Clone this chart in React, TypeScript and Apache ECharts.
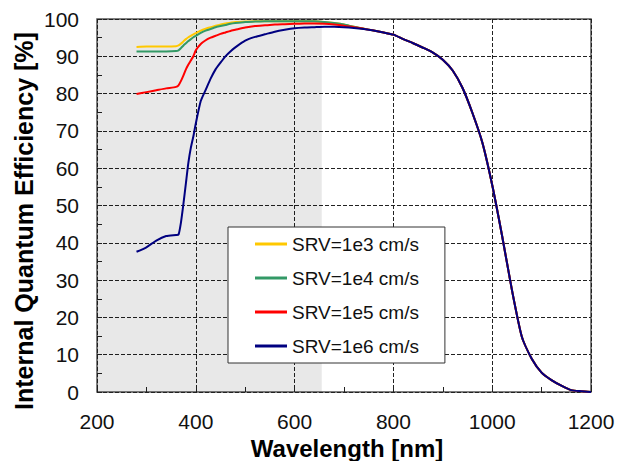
import React, { useEffect, useRef } from "react";
import * as echarts from "echarts";

const wavelengths = [280, 300, 320, 340, 360, 365, 370, 375, 380, 385, 390, 395, 400, 410, 420, 430, 440, 450, 460, 470, 480, 500, 520, 540, 560, 580, 600, 620, 640, 660, 680, 700, 720, 740, 760, 780, 800, 820, 840, 860, 880, 900, 920, 940, 960, 980, 1000, 1020, 1040, 1060, 1080, 1100, 1120, 1140, 1160, 1180, 1200];

const srv1e3 = [92.5, 92.6, 92.6, 92.6, 92.7, 92.9, 93.4, 94.0, 94.6, 95.1, 95.5, 95.9, 96.2, 96.9, 97.4, 97.8, 98.2, 98.5, 98.8, 99.0, 99.2, 99.3, 99.4, 99.4, 99.4, 99.4, 99.4, 99.4, 99.4, 99.2, 98.9, 98.5, 97.9, 97.4, 96.9, 96.4, 95.8, 94.6, 93.5, 92.3, 91.0, 89.1, 86.2, 81.5, 74.8, 66.9, 55.5, 41.9, 27.3, 14.8, 8.9, 5.2, 3.2, 1.7, 0.5, 0.2, 0];
const srv1e4 = [91.3, 91.3, 91.3, 91.3, 91.4, 91.6, 92.2, 92.9, 93.5, 94.1, 94.6, 95.1, 95.5, 96.3, 96.9, 97.3, 97.8, 98.1, 98.4, 98.7, 98.9, 99.2, 99.3, 99.4, 99.4, 99.4, 99.4, 99.4, 99.4, 99.2, 98.9, 98.5, 97.9, 97.4, 96.9, 96.4, 95.8, 94.6, 93.5, 92.3, 91.0, 89.1, 86.2, 81.5, 74.8, 66.9, 55.5, 41.9, 27.3, 14.8, 8.9, 5.2, 3.2, 1.7, 0.5, 0.2, 0];
const srv1e5 = [79.9, 80.4, 80.9, 81.4, 81.8, 82.2, 83.4, 84.9, 86.5, 87.8, 88.9, 90.0, 91.6, 93.3, 94.3, 95.0, 95.5, 96.0, 96.4, 96.8, 97.1, 97.7, 98.1, 98.3, 98.5, 98.6, 98.7, 98.8, 98.8, 98.7, 98.5, 98.2, 97.8, 97.4, 96.9, 96.4, 95.8, 94.6, 93.5, 92.3, 91.0, 89.1, 86.2, 81.5, 74.8, 66.9, 55.5, 41.9, 27.3, 14.8, 8.9, 5.2, 3.2, 1.7, 0.5, 0.2, 0];
const srv1e6 = [37.6, 38.8, 40.6, 41.8, 42.1, 42.2, 45.5, 50.5, 56.0, 61.5, 65.5, 68.5, 72.0, 78.0, 81.0, 84.0, 86.5, 88.3, 90.0, 91.3, 92.4, 94.2, 95.2, 95.9, 96.6, 97.1, 97.5, 97.7, 97.8, 97.9, 97.9, 97.8, 97.6, 97.3, 96.9, 96.4, 95.8, 94.6, 93.5, 92.3, 91.0, 89.1, 86.2, 81.5, 74.8, 66.9, 55.5, 41.9, 27.3, 14.8, 8.9, 5.2, 3.2, 1.7, 0.5, 0.2, 0];

const seriesNames = ["SRV=1e3 cm/s", "SRV=1e4 cm/s", "SRV=1e5 cm/s", "SRV=1e6 cm/s"];
const seriesValues = [srv1e3, srv1e4, srv1e5, srv1e6];
const seriesColors = ["#FFC800", "#339966", "#FF0000", "#000080"];
const shadedRange = [200, 655];

const FONT = "'Liberation Sans', Arial, sans-serif";

export default function App() {
  const ref = useRef<HTMLDivElement>(null);
  useEffect(() => {
    if (!ref.current) return;
    const chart = echarts.init(ref.current, null, { renderer: "svg" });
    const lines = seriesNames.map((name, i) => ({
      name,
      type: "line",
      data: wavelengths.map((w, j) => [w, seriesValues[i][j]]),
      showSymbol: false,
      symbol: "none",
      smooth: 0.2,
      z: 3,
      lineStyle: { color: seriesColors[i], width: 2 },
      itemStyle: { color: seriesColors[i] },
    }));
    chart.setOption({
      animation: false,
      backgroundColor: "#fff",
      textStyle: { fontFamily: FONT },
      grid: {
        left: 97,
        right: 29,
        top: 19,
        bottom: 69,
        show: true,
        borderColor: "#555",
        borderWidth: 1.5,
        backgroundColor: "transparent",
      },
      legend: {
        data: seriesNames,
        orient: "vertical",
        left: 228,
        top: 227,
        backgroundColor: "#fff",
        borderColor: "#333",
        borderWidth: 1,
        borderRadius: 0,
        padding: [7, 26, 7, 27],
        itemWidth: 32,
        itemHeight: 3,
        itemGap: 14,
        icon: "rect",
        textStyle: { fontSize: 19, lineHeight: 20, color: "#111", fontFamily: FONT },
        z: 10,
      },
      xAxis: {
        type: "value",
        min: 200,
        max: 1200,
        interval: 200,
        axisLine: { show: false },
        axisTick: { show: true, inside: true, length: 5, lineStyle: { color: "#222" } },
        minorTick: { show: true, splitNumber: 2, length: 5, lineStyle: { color: "#222" } },
        splitLine: { show: true, lineStyle: { color: "#222", width: 1, type: [4, 2] } },
        axisLabel: { fontSize: 21, color: "#111", margin: 19, fontFamily: FONT, formatter: (v: number) => String(v) },
      },
      yAxis: {
        type: "value",
        min: 0,
        max: 100,
        interval: 10,
        axisLine: { show: false },
        axisTick: { show: true, inside: true, length: 5, lineStyle: { color: "#222" } },
        minorTick: { show: true, splitNumber: 2, length: 5, lineStyle: { color: "#222" } },
        splitLine: { show: true, lineStyle: { color: "#222", width: 1, type: [4, 2] } },
        axisLabel: { fontSize: 21, color: "#111", margin: 18, fontFamily: FONT, formatter: (v: number) => String(v) },
      },
      graphic: [
        {
          type: "text",
          x: 24,
          y: 221,
          rotation: Math.PI / 2,
          style: {
            text: "Internal Quantum Efficiency [%]",
            font: `bold 25px ${FONT}`,
            fill: "#000",
            textAlign: "center",
            textVerticalAlign: "middle",
          },
        },
        {
          type: "text",
          x: 347,
          y: 448,
          style: {
            text: "Wavelength [nm]",
            font: `bold 24px ${FONT}`,
            fill: "#000",
            textAlign: "center",
            textVerticalAlign: "middle",
          },
        },
      ],
      series: [
        {
          name: "shade",
          type: "line",
          data: [[200, 0]],
          symbol: "none",
          lineStyle: { opacity: 0 },
          z: 1,
          silent: true,
          markArea: {
            silent: true,
            itemStyle: { color: "rgba(0,0,0,0.09)" },
            data: [[{ xAxis: shadedRange[0] }, { xAxis: shadedRange[1] }]],
          },
        },
        ...lines,
      ],
    });
    return () => chart.dispose();
  }, []);
  return <div ref={ref} style={{ position: "fixed", left: 0, top: 0, width: 620, height: 461 }} />;
}
